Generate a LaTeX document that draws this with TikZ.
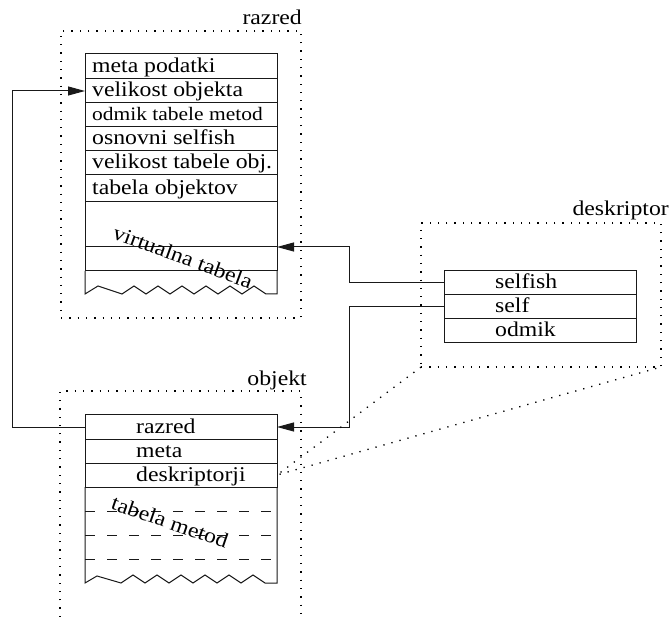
\documentclass[tikz,border=0pt]{standalone}
\usepackage{fontspec}
\setmainfont{Liberation Serif}[FakeStretch=1.13]
\usetikzlibrary{positioning}
\usetikzlibrary{arrows.meta}
\tikzstyle{every picture}=[x=1pt,y=-1pt]
\tikzstyle{every node}=[font=\fontsize{21pt}{25pt}\selectfont]
\tikzstyle{crta}=[line width=1pt, draw=black!90]
\tikzstyle{celica}=[rectangle, crta, anchor=north west, minimum width=192pt,
                    minimum height=24pt, inner sep=0pt, outer sep=0pt]
\tikzstyle{vpis}=[anchor=west, xshift=7pt, inner sep=0pt, text height=15pt, text depth=3pt]
\tikzstyle{vpisd}=[vpis, xshift=44pt]
\tikzstyle{okvir}=[rectangle, draw, anchor=north west, line width=1.3pt,
                   dash pattern=on 1.3pt off 7pt, inner sep=0pt, outer sep=0pt]
\tikzstyle{pikce}=[line width=1.3pt, dash pattern=on 1.3pt off 7pt]
\tikzstyle{naslov}=[anchor=base east, inner sep=0pt]
\tikzstyle{puscica}=[crta, -{Triangle[length=17pt,width=9pt]}]
\tikzstyle{crtice}=[crta, dash pattern=on 10pt off 12pt]

\begin{document}
\begin{tikzpicture}
  \useasboundingbox (0,0) rectangle (672,617);

  % razred
  \node[okvir, minimum width=240pt, minimum height=287pt] (razred) at (61,31) {};
  \node[naslov] (nRazred) at (302,25) {razred};
  \node[celica, minimum height=25pt] (rMeta) at (85,54) {};
  \node[celica, below=0pt of rMeta] (rVelikost) {};
  \node[celica, below=0pt of rVelikost] (rOdmik) {};
  \node[celica, below=0pt of rOdmik] (rOsnovni) {};
  \node[celica, below=0pt of rOsnovni] (rVelTab) {};
  \node[celica, below=0pt of rVelTab, minimum height=27pt] (rTabObj) {};
  \node[celica, below=0pt of rTabObj, minimum height=45pt] (rVirt) {};
  \node[celica, below=0pt of rVirt] (rPrazno) {};
  \node[vpis] (tMeta) at (rMeta.west) {meta podatki};
  \node[vpis] (tVelikost) at (rVelikost.west) {velikost objekta};
  \node[vpis, font=\fontsize{19pt}{23pt}\selectfont] (tOdmik) at (rOdmik.west) {odmik tabele metod};
  \node[vpis] (tOsnovni) at (rOsnovni.west) {osnovni selfish};
  \node[vpis] (tVelTab) at (rVelTab.west) {velikost tabele obj.};
  \node[vpis] (tTabObj) at (rTabObj.west) {tabela objektov};
  \draw[crta] (rPrazno.south west) -- (85,294) -- (98,286) -- (122,294)
    \foreach \x in {146,170,...,266} {-- (\x-12,286) -- (\x,294)} -- (277,294) -- (rPrazno.south east);
  \node[rotate=-20] (nVirt) at (183,257) {virtualna tabela};

  % deskriptor
  \node[okvir, minimum width=240pt, minimum height=144pt] (deskriptor) at (421,223) {};
  \node[naslov] (nDeskriptor) at (669,216) {deskriptor};
  \node[celica] (dSelfish) at (444,271) {};
  \node[celica, below=0pt of dSelfish] (dSelf) {};
  \node[celica, below=0pt of dSelf] (dOdmik) {};
  \node[vpisd] (tSelfish) at (dSelfish.west) {selfish};
  \node[vpisd] (tSelf) at (dSelf.west) {self};
  \node[vpisd] (tOdmikD) at (dOdmik.west) {odmik};

  % objekt
  \draw[pikce] (60,617) |- (301,391) -- (301,617);
  \node[naslov] (nObjekt) at (307,385) {objekt};
  \node[celica] (oRazred) at (85,415) {};
  \node[celica, below=0pt of oRazred] (oMeta) {};
  \node[celica, below=0pt of oMeta] (oDeskriptorji) {};
  \node[vpisd] (tRazred) at (oRazred.west) {razred};
  \node[vpisd] (tMetaO) at (oMeta.west) {meta};
  \node[vpisd] (tDeskriptorji) at (oDeskriptorji.west) {deskriptorji};
  \draw[crta] (oDeskriptorji.south west) -- (85,583) -- (97,576) -- (121,583)
    \foreach \x in {145,169,...,265} {-- (\x-12,575) -- (\x,583)} -- (277,583) -- (oDeskriptorji.south east);
  \foreach \y in {511,535,559}
    \draw[crtice] (85,\y) -- (277,\y);
  \node[rotate=-19] (nMetode) at (170,522) {tabela metod};

  % povezave
  \draw[puscica] (oRazred.west) -- ++(-73,0) |- (rVelikost.west);
  \draw[puscica] (dSelfish.west) -- ++(-95,0) |- (rPrazno.north east);
  \draw[puscica] (dSelf.west) -- ++(-95,0) |- (oRazred.east);
  \draw[pikce] (deskriptor.south west) -- (oDeskriptorji.east) -- (deskriptor.south east);
\end{tikzpicture}
\end{document}
